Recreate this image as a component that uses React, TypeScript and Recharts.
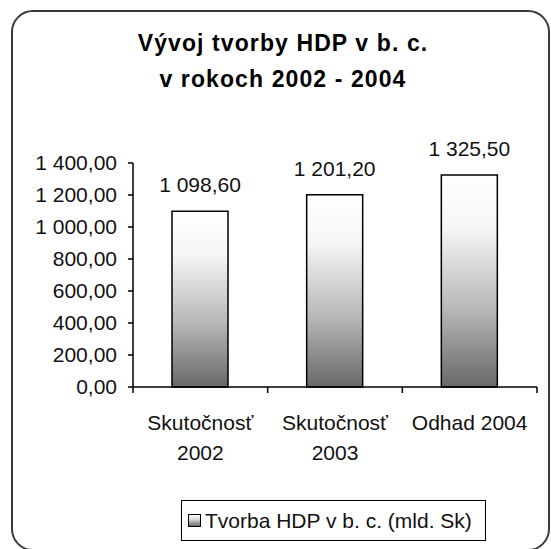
import React from 'react';
import { BarChart, Bar, XAxis, YAxis, Legend, LabelList } from 'recharts';

// hodnoty z grafu (mld. Sk)
const categories = ['Skutočnosť\n2002', 'Skutočnosť\n2003', 'Odhad 2004'];
const hdpValues = [1098.6, 1201.2, 1325.5];
const yTicks = [0, 200, 400, 600, 800, 1000, 1200, 1400];
const seriesName = 'Tvorba HDP v b. c. (mld. Sk)';
const titleLines = ['Vývoj tvorby HDP v b. c.', 'v rokoch 2002 - 2004'];

const data = categories.map((name, i) => ({ name, value: hdpValues[i] }));

const W = 551;
const H = 549;
const PLOT_LEFT = 133;
const PLOT_RIGHT = 537;
const BAND = (PLOT_RIGHT - PLOT_LEFT) / categories.length;
const FONT = '"Liberation Sans", Arial, sans-serif';
const TEXT = '#111';

// 1400 -> "1 400,00"
const fmt = (v: number) => {
    const [i, d] = v.toFixed(2).split('.');
    return i.replace(/\B(?=(\d{3})+(?!\d))/g, ' ') + ',' + d;
};

const CategoryTick = (props: any) => {
    const { x, y, payload, index } = props;
    const lines = String(payload.value).split('\n');
    return (
        <g>
            {index === 0 && <line x1={x - BAND / 2} y1={y} x2={x - BAND / 2} y2={y + 6} stroke="#000" strokeWidth={1.5} />}
            <line x1={x + BAND / 2} y1={y} x2={x + BAND / 2} y2={y + 6} stroke="#000" strokeWidth={1.5} />
            <text x={x} y={y} textAnchor="middle" fontSize={21} fontFamily={FONT} fill={TEXT}>
                {lines.map((l, i) => (
                    <tspan key={i} x={x} y={y + 43 + i * 30}>{l}</tspan>
                ))}
            </text>
        </g>
    );
};

// popis hodnoty nad stĺpcom (bez zalamovania)
const ValueLabel = (props: any) => {
    const { x, y, width, value } = props;
    return (
        <text x={x + width / 2} y={y - 19} textAnchor="middle" fontSize={21} fontFamily={FONT} fill={TEXT}>
            {fmt(Number(value))}
        </text>
    );
};

const LegendBox = () => (
    <div style={{
        boxSizing: 'border-box',
        width: '100%',
        height: '100%',
        border: '1.5px solid #000',
        display: 'flex',
        alignItems: 'center',
        paddingLeft: 6,
        fontFamily: FONT,
        fontSize: 21,
        color: TEXT,
        background: '#fff'
    }}>
        <span style={{
            display: 'inline-block',
            width: 11,
            height: 11,
            border: '1px solid #000',
            background: 'linear-gradient(#ffffff, #d8d8d8 40%, #6a6a6a)',
            marginRight: 4
        }} />
        <span>{seriesName}</span>
    </div>
);

export default function App() {
    return (
        <div style={{ position: 'absolute', left: 0, top: 0, width: W, height: H, overflow: 'hidden', background: '#fff' }}>
            {/* rámček grafu */}
            <div style={{
                position: 'absolute',
                left: 11,
                top: 10,
                width: 539,
                height: 541,
                boxSizing: 'border-box',
                border: '2px solid #3a3a3a',
                borderRadius: 22
            }} />
            <div style={{
                position: 'absolute',
                left: 83,
                top: 25,
                width: 400,
                textAlign: 'center',
                fontFamily: FONT,
                fontWeight: 'bold',
                fontSize: 23,
                letterSpacing: 1.1,
                lineHeight: '36px',
                color: '#000'
            }}>
                {titleLines.map((t, i) => <div key={i}>{t}</div>)}
            </div>
            <div style={{ position: 'absolute', left: 0, top: 0 }}>
                <BarChart width={W} height={H} data={data} margin={{ top: 163, right: W - PLOT_RIGHT, left: 0, bottom: 0 }}>
                    <defs>
                        <linearGradient id="barGrad" x1="0" y1="0" x2="0" y2="1">
                            <stop offset="0%" stopColor="#ffffff" />
                            <stop offset="25%" stopColor="#f6f6f6" />
                            <stop offset="65%" stopColor="#b4b4b4" />
                            <stop offset="100%" stopColor="#686868" />
                        </linearGradient>
                    </defs>
                    <XAxis
                        dataKey="name"
                        height={H - 387}
                        interval={0}
                        axisLine={{ stroke: '#000', strokeWidth: 1.5 }}
                        tickLine={false}
                        tickSize={0}
                        tickMargin={0}
                        tick={<CategoryTick />}
                    />
                    <YAxis
                        width={PLOT_LEFT}
                        domain={[0, 1400]}
                        ticks={yTicks}
                        interval={0}
                        tickFormatter={fmt}
                        axisLine={{ stroke: '#000', strokeWidth: 1.5 }}
                        tickLine={{ stroke: '#000', strokeWidth: 1.5 }}
                        tickSize={5}
                        tickMargin={11}
                        tick={{ fontSize: 21, fontFamily: FONT, fill: TEXT }}
                    />
                    <Legend
                        layout="horizontal"
                        verticalAlign="middle"
                        align="center"
                        content={<LegendBox />}
                        wrapperStyle={{ left: 181, top: 500, width: 305, height: 41 }}
                    />
                    <Bar dataKey="value" name={seriesName} barSize={56} fill="url(#barGrad)" stroke="#000" strokeWidth={1.5} isAnimationActive={false}>
                        <LabelList dataKey="value" content={<ValueLabel />} />
                    </Bar>
                </BarChart>
            </div>
        </div>
    );
}
